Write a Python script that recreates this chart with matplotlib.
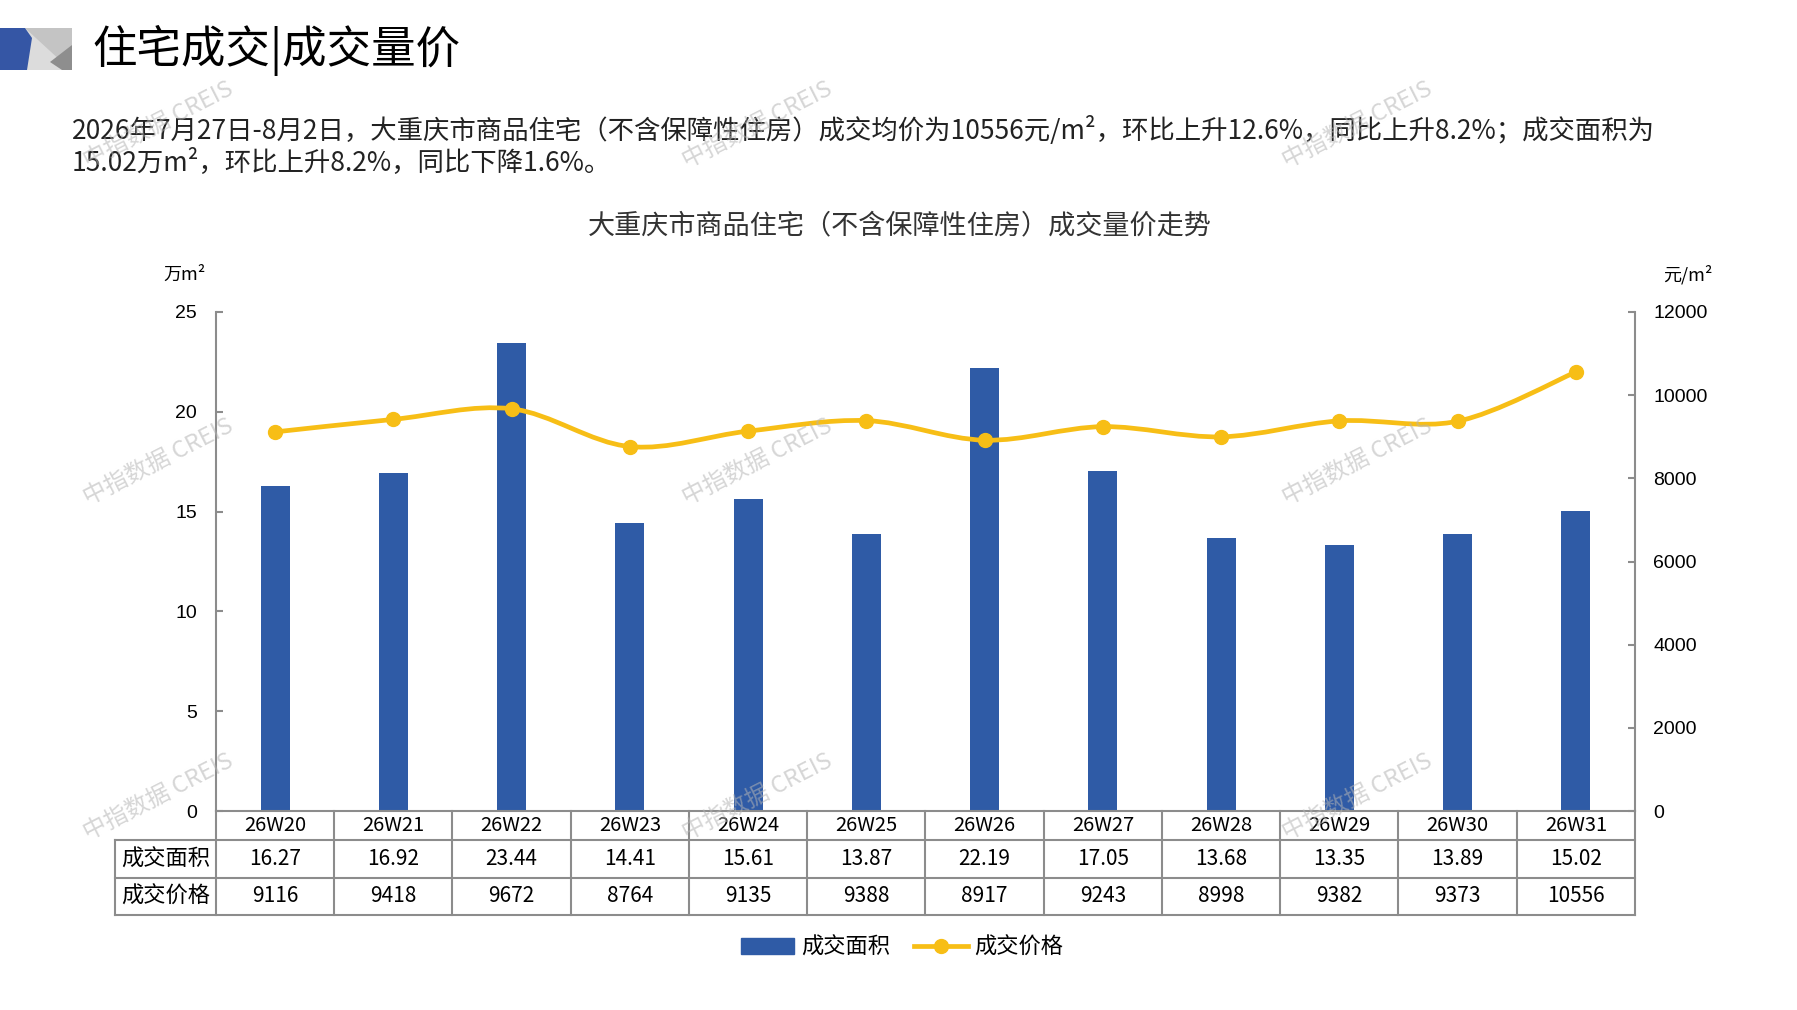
import numpy as np
import matplotlib
matplotlib.use("Agg")
import matplotlib.pyplot as plt
import matplotlib.transforms as mtransforms
from matplotlib.path import Path
from matplotlib.patches import PathPatch, Polygon, Patch
from matplotlib.lines import Line2D

# data
weeks = ["26W20", "26W21", "26W22", "26W23", "26W24", "26W25",
         "26W26", "26W27", "26W28", "26W29", "26W30", "26W31"]
area = [16.27, 16.92, 23.44, 14.41, 15.61, 13.87, 22.19, 17.05, 13.68, 13.35, 13.89, 15.02]
price = [9116, 9418, 9672, 8764, 9135, 9388, 8917, 9243, 8998, 9382, 9373, 10556]
row_names = ["成交面积", "成交价格"]

page_title = "住宅成交|成交量价"
summary_1 = "2026年7月27日-8月2日，大重庆市商品住宅（不含保障性住房）成交均价为10556元/m²，环比上升12.6%，同比上升8.2%；成交面积为"
summary_2 = "15.02万m²，环比上升8.2%，同比下降1.6%。"
chart_title = "大重庆市商品住宅（不含保障性住房）成交量价走势"
watermark = "中指数据 CREIS"

CJK = ["Noto Sans CJK SC", "DejaVu Sans"]
LAT = ["Liberation Sans", "DejaVu Sans"]
BLUE = "#2F5BA6"
YELLOW = "#F7BE16"
GRID = "#8C8C8C"

W, H = 1797, 1010
fig = plt.figure(figsize=(W / 100, H / 100), dpi=100)


def fx(x):
    return x / W


def fy(y):
    return 1 - y / H


# little logo in the top-left corner
logo = [
    ([(0, 28), (72, 28), (72, 70), (0, 70)], "#DCDCDC"),
    ([(25, 28), (72, 28), (72, 45), (62, 62)], "#C4C4C4"),
    ([(50, 62), (72, 45), (72, 70), (62, 70)], "#8E8E8E"),
    ([(0, 28), (25, 28), (32, 38), (27, 70), (0, 70)], "#3556A5"),
]
for pts, col in logo:
    fig.add_artist(Polygon([(fx(a), fy(b)) for a, b in pts], closed=True,
                           facecolor=col, edgecolor="none", transform=fig.transFigure))

fig.text(fx(92), fy(50), page_title, family=CJK, fontsize=32, va="center", ha="left")
fig.text(fx(72), fy(131), summary_1, family=CJK, fontsize=19, va="center", ha="left", color="#222222")
fig.text(fx(72), fy(163), summary_2, family=CJK, fontsize=19, va="center", ha="left", color="#222222")
fig.text(fx(900), fy(226), chart_title, family=CJK, fontsize=19.5, va="center", ha="center", color="#333333")

# main axes
L, R, T, B = 216, 1635, 312, 811
ax = fig.add_axes([fx(L), fy(B), (R - L) / W, (B - T) / H])
x = np.arange(len(weeks))
ax.bar(x, area, width=0.245, color=BLUE, zorder=2)
ax.set_xlim(-0.5, len(weeks) - 0.5)
ax.set_ylim(0, 25)
ax.set_yticks(range(0, 26, 5))
ax.set_xticks([])
for s in ["top", "right"]:
    ax.spines[s].set_visible(False)
for s in ["left", "bottom"]:
    ax.spines[s].set_color(GRID)
    ax.spines[s].set_linewidth(1.5)
ax.tick_params(axis="y", direction="in", length=5, width=1.5, color=GRID, pad=13.5)
for lab in ax.get_yticklabels():
    lab.set_fontfamily(LAT)
    lab.set_fontsize(14)

ax2 = ax.twinx()
ax2.set_xlim(-0.5, len(weeks) - 0.5)
ax2.set_ylim(0, 12000)
ax2.set_yticks(range(0, 12001, 2000))
for s in ["top", "left", "bottom"]:
    ax2.spines[s].set_visible(False)
ax2.spines["right"].set_color(GRID)
ax2.spines["right"].set_linewidth(1.5)
ax2.tick_params(axis="y", direction="in", length=5, width=1.5, color=GRID, pad=13)
for lab in ax2.get_yticklabels():
    lab.set_fontfamily(LAT)
    lab.set_fontsize(14)

# smoothed price line (bezier through the data points, like excel)
pts = np.column_stack([x, price]).astype(float)
verts = [pts[0]]
codes = [Path.MOVETO]
for i in range(len(pts) - 1):
    p0 = pts[i - 1] if i > 0 else pts[i]
    p1 = pts[i]
    p2 = pts[i + 1]
    p3 = pts[i + 2] if i + 2 < len(pts) else pts[i + 1]
    verts += [p1 + (p2 - p0) / 6, p2 - (p3 - p1) / 6, p2]
    codes += [Path.CURVE4] * 3
ax2.add_patch(PathPatch(Path(verts, codes), facecolor="none", edgecolor=YELLOW,
                        lw=3.4, capstyle="round", zorder=3))
ax2.plot(x, price, "o", ms=10, color=YELLOW, zorder=4)

fig.text(fx(184), fy(275), "万m²", family=CJK, fontsize=13, ha="center", va="center")
fig.text(fx(1688), fy(275), "元/m²", family=CJK, fontsize=13, ha="center", va="center")

# data table under the chart
trans = mtransforms.blended_transform_factory(ax.transData, fig.transFigure)
tab_left = -0.5 - (L - 115) / ((R - L) / len(weeks))
rows_y = [811, 840, 878, 915]
for yy in rows_y[1:]:
    fig.add_artist(Line2D([tab_left, len(weeks) - 0.5], [fy(yy), fy(yy)], transform=trans,
                          color=GRID, lw=1.5))
fig.add_artist(Line2D([tab_left, tab_left], [fy(rows_y[1]), fy(rows_y[3])], transform=trans,
                      color=GRID, lw=1.5))
for k in range(len(weeks) + 1):
    xx = k - 0.5
    fig.add_artist(Line2D([xx, xx], [fy(rows_y[0]), fy(rows_y[3])], transform=trans,
                          color=GRID, lw=1.5))

mid = [(rows_y[i] + rows_y[i + 1]) / 2 for i in range(3)]
lab_x = (tab_left - 0.5) / 2
fig.text(lab_x, fy(mid[1]), row_names[0], transform=trans, family=CJK, fontsize=16,
         ha="center", va="center")
fig.text(lab_x, fy(mid[2]), row_names[1], transform=trans, family=CJK, fontsize=16,
         ha="center", va="center")
for i in range(len(weeks)):
    fig.text(i, fy(mid[0]), weeks[i], transform=trans, family=CJK, fontsize=14.5,
             ha="center", va="center")
    fig.text(i, fy(mid[1]), "%.2f" % area[i], transform=trans, family=CJK, fontsize=15,
             ha="center", va="center")
    fig.text(i, fy(mid[2]), str(price[i]), transform=trans, family=CJK, fontsize=15,
             ha="center", va="center")

# legend
handles = [Patch(color=BLUE, label="成交面积"),
           Line2D([], [], color=YELLOW, lw=3.4, marker="o", ms=10, label="成交价格")]
fig.legend(handles=handles, loc="center", bbox_to_anchor=(fx(902), fy(947)), ncol=2,
           frameon=False, prop={"family": CJK, "size": 16}, handlelength=2.4,
           handletextpad=0.3, columnspacing=1.1)

# watermarks
for wy in [125, 462, 797]:
    for wx in [158, 757, 1357]:
        fig.text(fx(wx), fy(wy), watermark, family=CJK, fontsize=17, color="#B4B4B4",
                 alpha=0.55, rotation=27, ha="center", va="center",
                 rotation_mode="anchor", zorder=10)

fig.savefig("out.png", dpi=100)
